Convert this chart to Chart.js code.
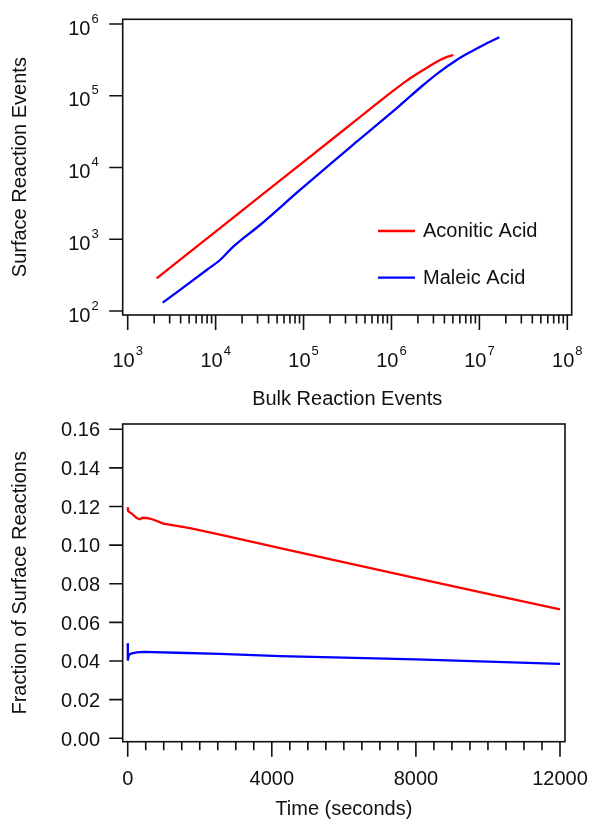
<!DOCTYPE html>
<html><head><meta charset="utf-8">
<script src="https://cdn.jsdelivr.net/npm/chart.js@4.4.0/dist/chart.umd.min.js"></script>
<style>
html,body{margin:0;padding:0;background:#fff;width:593px;height:822px;overflow:hidden}
canvas{position:absolute;left:0}
#c1{top:0}
#c2{top:411px}
</style></head><body>
<canvas id="c1" width="593" height="411"></canvas>
<canvas id="c2" width="593" height="411"></canvas>
<script>
// ---------------- data ----------------
const seriesNames = ['Aconitic Acid', 'Maleic Acid'];

// top panel: bulk vs surface reaction events (log-log)
const aconiticBulk    = [2137, 10000, 100000, 316230, 1000000, 1498000, 2302000, 3566000, 4282000, 5052000];
const aconiticSurface = [285.6, 1279, 11985, 36680, 112080, 162600, 228500, 315000, 348500, 369800];
const maleicBulk      = [2500, 7916, 11215, 15890, 31970, 91250, 402400, 1250500, 2302000, 3566000, 5521000, 7823000, 11585000, 16850000];
const maleicSurface   = [130.6, 372.7, 513.7, 787.5, 1580, 4873, 22890, 73600, 141200, 217100, 315000, 404600, 523000, 652500];

const topXTicks = [1e3, 1e4, 1e5, 1e6, 1e7, 1e8];
const topXTickExps = ['3', '4', '5', '6', '7', '8'];
const topYTicks = [1e2, 1e3, 1e4, 1e5, 1e6];
const topYTickExps = ['2', '3', '4', '5', '6'];

// bottom panel: fraction of surface reactions vs time
const timeAconitic = [0, 8, 40, 120, 250, 330, 420, 560, 700, 990, 1730, 2560, 3400, 4230, 6080, 8000, 9780, 12000];
const fracAconitic = [0.1196, 0.1178, 0.1172, 0.1162, 0.1140, 0.1134, 0.1142, 0.1140, 0.1133, 0.1112, 0.1088, 0.1055, 0.1020, 0.0985, 0.0908, 0.0830, 0.0757, 0.0668];
const timeMaleic = [0, 4, 30, 90, 250, 450, 700, 1360, 2560, 4230, 6000, 8000, 10000, 12000];
const fracMaleic = [0.0492, 0.0403, 0.0432, 0.0438, 0.0445, 0.0448, 0.0446, 0.0443, 0.0437, 0.0426, 0.0418, 0.0409, 0.0397, 0.0385];

const botXTicks = [0, 4000, 8000, 12000];
const botXTickLabels = ['0', '4000', '8000', '12000'];
const botYTicks = [0, 0.02, 0.04, 0.06, 0.08, 0.10, 0.12, 0.14, 0.16];
const botYTickLabels = ['0.00', '0.02', '0.04', '0.06', '0.08', '0.10', '0.12', '0.14', '0.16'];

// ---------------- styling ----------------
const FONT = '"Liberation Sans", Arial, Helvetica, sans-serif';
const INK = '#111111';
const RED = '#ff0000';
const BLUE = '#0000ff';
Chart.defaults.font.family = FONT;
Chart.defaults.color = INK;

function pts(xs, ys) { return xs.map((x, i) => ({x: x, y: ys[i]})); }

function powLabel(ctx, exp, anchorX, baseY, align) {
  const big = '20px ' + FONT, small = '13px ' + FONT;
  ctx.font = big; const w1 = ctx.measureText('10').width;
  ctx.font = small; const w2 = ctx.measureText(exp).width;
  const gap = 1;
  const total = w1 + gap + w2;
  const x0 = align === 'center' ? anchorX - total / 2 : anchorX - total;
  ctx.textAlign = 'left'; ctx.textBaseline = 'alphabetic';
  ctx.font = big; ctx.fillText('10', x0, baseY);
  ctx.font = small; ctx.fillText(exp, x0 + w1 + gap, baseY - 12);
}

function decor(spec) {
  return {
    id: 'decor',
    afterDraw(chart) {
      const ctx = chart.ctx, a = chart.chartArea, xs = chart.scales.x, ys = chart.scales.y;
      ctx.save();
      ctx.strokeStyle = INK; ctx.lineWidth = 1.6;
      ctx.strokeRect(a.left, a.top, a.right - a.left, a.bottom - a.top);
      ctx.beginPath();
      spec.xMajor.forEach(v => { const p = xs.getPixelForValue(v); ctx.moveTo(p, a.bottom); ctx.lineTo(p, a.bottom + 15); });
      spec.xMinor.forEach(v => { const p = xs.getPixelForValue(v); ctx.moveTo(p, a.bottom); ctx.lineTo(p, a.bottom + 8.5); });
      spec.yMajor.forEach(v => { const p = ys.getPixelForValue(v); ctx.moveTo(a.left, p); ctx.lineTo(a.left - 13.5, p); });
      ctx.stroke();
      ctx.fillStyle = INK;
      spec.labels(ctx, chart, a, xs, ys);
      ctx.restore();
    }
  };
}

function axisTitle(text, pad) {
  return {display: true, text: text, color: INK, font: {family: FONT, size: 20, lineHeight: 1.2}, padding: pad};
}

// ---------------- top chart ----------------
const topMinor = [];
for (let e = 3; e < 8; e++) for (let m = 2; m <= 9; m++) topMinor.push(m * Math.pow(10, e));

new Chart(document.getElementById('c1'), {
  type: 'line',
  data: {
    datasets: [
      {label: seriesNames[0], data: pts(aconiticBulk, aconiticSurface), borderColor: RED, borderWidth: 2.3, pointRadius: 0, cubicInterpolationMode: 'monotone', fill: false},
      {label: seriesNames[1], data: pts(maleicBulk, maleicSurface), borderColor: BLUE, borderWidth: 2.3, pointRadius: 0, cubicInterpolationMode: 'monotone', fill: false}
    ]
  },
  options: {
    responsive: false, animation: false, devicePixelRatio: 1,
    layout: {padding: {top: 19.3, right: 21.3, left: 0, bottom: 0}},
    plugins: {legend: {display: false}, tooltip: {enabled: false}},
    scales: {
      x: {type: 'logarithmic', min: Math.pow(10, 2.9431), max: Math.pow(10, 8.05),
          grid: {display: false, drawTicks: false}, border: {display: false}, ticks: {display: false},
          title: axisTitle('Bulk Reaction Events', {top: 0, bottom: 0}),
          afterFit: s => { s.height = 96; }},
      y: {type: 'logarithmic', min: Math.pow(10, 1.9443), max: Math.pow(10, 6.0655),
          grid: {display: false, drawTicks: false}, border: {display: false}, ticks: {display: false},
          title: axisTitle('Surface Reaction Events', {top: 8.5, bottom: 0}),
          afterFit: s => { s.width = 122.7; }}
    }
  },
  plugins: [decor({
    xMajor: topXTicks, xMinor: topMinor, yMajor: topYTicks,
    labels(ctx, chart, a, xs, ys) {
      topXTicks.forEach((v, i) => powLabel(ctx, topXTickExps[i], xs.getPixelForValue(v), a.bottom + 52.3, 'center'));
      topYTicks.forEach((v, i) => powLabel(ctx, topYTickExps[i], a.left - 24, ys.getPixelForValue(v) + 10.7, 'right'));
      // legend
      const lx = a.left + 255.3, ly = a.top + 211.7, dy = 46.7;
      chart.data.datasets.forEach((ds, i) => {
        const y = ly + i * dy;
        ctx.strokeStyle = ds.borderColor; ctx.lineWidth = 2.3;
        ctx.beginPath(); ctx.moveTo(lx, y); ctx.lineTo(lx + 37, y); ctx.stroke();
        ctx.fillStyle = INK; ctx.font = '20px ' + FONT; ctx.textAlign = 'left'; ctx.textBaseline = 'middle';
        ctx.fillText(ds.label, lx + 45, y + 0.5);
      });
    }
  })]
});

// ---------------- bottom chart ----------------
const botMinor = [];
for (let t = 500; t < 12000; t += 500) if (t % 4000 !== 0) botMinor.push(t);

new Chart(document.getElementById('c2'), {
  type: 'line',
  data: {
    datasets: [
      {label: seriesNames[0], data: pts(timeAconitic, fracAconitic), borderColor: RED, borderWidth: 2.3, pointRadius: 0, tension: 0, fill: false},
      {label: seriesNames[1], data: pts(timeMaleic, fracMaleic), borderColor: BLUE, borderWidth: 2.3, pointRadius: 0, tension: 0, fill: false}
    ]
  },
  options: {
    responsive: false, animation: false, devicePixelRatio: 1,
    layout: {padding: {top: 13, right: 28, left: 0, bottom: 0}},
    plugins: {legend: {display: false}, tooltip: {enabled: false}},
    scales: {
      x: {type: 'linear', min: -139, max: 12139,
          grid: {display: false, drawTicks: false}, border: {display: false}, ticks: {display: false},
          title: axisTitle('Time (seconds)', {top: 0, bottom: 1}),
          afterFit: s => { s.height = 80.3; }},
      y: {type: 'linear', min: -0.00176, max: 0.16274,
          grid: {display: false, drawTicks: false}, border: {display: false}, ticks: {display: false},
          title: axisTitle('Fraction of Surface Reactions', {top: 8.5, bottom: 0}),
          afterFit: s => { s.width = 122.7; }}
    }
  },
  plugins: [decor({
    xMajor: botXTicks, xMinor: botMinor, yMajor: botYTicks,
    labels(ctx, chart, a, xs, ys) {
      ctx.font = '20px ' + FONT; ctx.textBaseline = 'alphabetic';
      ctx.textAlign = 'center';
      botXTicks.forEach((v, i) => ctx.fillText(botXTickLabels[i], xs.getPixelForValue(v), a.bottom + 43.3));
      ctx.textAlign = 'right';
      botYTicks.forEach((v, i) => ctx.fillText(botYTickLabels[i], a.left - 22.7, ys.getPixelForValue(v) + 7.2));
    }
  })]
});
</script>
</body></html>
